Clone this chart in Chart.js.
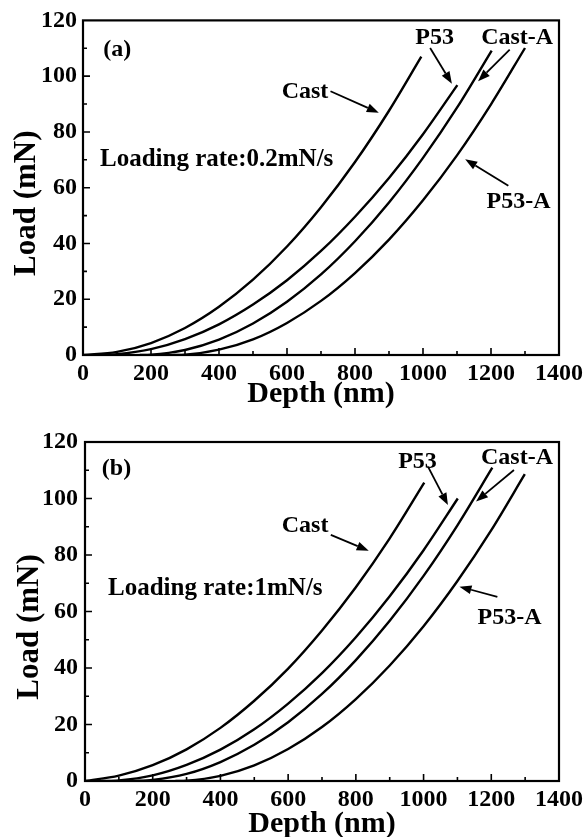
<!DOCTYPE html>
<html>
<head>
<meta charset="utf-8">
<script src="https://cdn.jsdelivr.net/npm/chart.js"></script>
<style>
  html, body { margin: 0; padding: 0; background: #fff; overflow: hidden; }
  canvas { position: absolute; left: 0; }
  #chartA { top: 0; }
  #chartB { top: 420px; }
</style>
</head>
<body>
<canvas id="chartA" width="587" height="420"></canvas>
<canvas id="chartB" width="587" height="430"></canvas>
<script>
// ---- data ----
// axis ticks
const depthTicks = [0, 200, 400, 600, 800, 1000, 1200, 1400];
const loadTicks = [0, 20, 40, 60, 80, 100, 120];

// (a) loading rate 0.2 mN/s
const aCastDepth = [0, 100, 200, 300, 400, 500, 600, 700, 800, 900, 995];
const aCastLoad = [0, 1.1, 4.3, 9.7, 17.3, 27.0, 38.9, 53.0, 69.2, 87.6, 107.0];
const aP53Depth = [43, 100, 200, 300, 400, 500, 600, 700, 800, 900, 1000, 1101];
const aP53Load = [0, 0.3, 2.1, 5.7, 11.0, 18.1, 26.8, 37.3, 49.6, 63.5, 79.2, 96.8];
const aCastADepth = [167, 200, 300, 400, 500, 600, 700, 800, 900, 1000, 1100, 1202];
const aCastALoad = [0, 0.1, 1.8, 5.5, 11.3, 19.1, 28.9, 40.8, 54.7, 70.7, 88.7, 109.2];
const aP53ADepth = [266, 300, 400, 500, 600, 700, 800, 900, 1000, 1100, 1200, 1300];
const aP53ALoad = [0, 0.1, 1.9, 5.6, 11.5, 19.4, 29.4, 41.4, 55.5, 71.6, 89.9, 110.1];

// (b) loading rate 1 mN/s
const bCastDepth = [0, 100, 200, 300, 400, 500, 600, 700, 800, 900, 1002];
const bCastLoad = [0, 1.9, 5.6, 11.2, 18.8, 28.4, 39.8, 53.3, 68.6, 85.9, 105.6];
const bP53Depth = [50, 100, 200, 300, 400, 500, 600, 700, 800, 900, 1000, 1101];
const bP53Load = [0, 0.2, 2.0, 5.7, 11.1, 18.3, 27.4, 38.2, 50.9, 65.4, 81.7, 100.0];
const bCastADepth = [139, 200, 300, 400, 500, 600, 700, 800, 900, 1000, 1100, 1203];
const bCastALoad = [0, 0.4, 2.5, 6.7, 12.8, 20.8, 30.8, 42.8, 56.7, 72.6, 90.5, 110.9];
const bP53ADepth = [267, 300, 400, 500, 600, 700, 800, 900, 1000, 1100, 1200, 1299];
const bP53ALoad = [0, 0.1, 1.8, 5.5, 11.3, 19.1, 29.0, 40.9, 54.8, 70.8, 88.8, 108.6];

function pts(xs, ys) {
  return xs.map((x, i) => ({ x: x, y: ys[i] }));
}

const serif = '"Liberation Serif", "Times New Roman", serif';

// labels + arrows, placed in data units
const panelA = {
  canvas: 'chartA', height: 420, top: 19, right: 26, yAxisW: 83, xAxisH: 65,
  yTickPad: 6, yTitlePad: 8, xTitlePad: 8,
  series: [pts(aCastDepth, aCastLoad), pts(aP53Depth, aP53Load), pts(aCastADepth, aCastALoad), pts(aP53ADepth, aP53ALoad)],
  texts: [
    { t: '(a)', x: 101, y: 109.5, align: 'center', size: 24 },
    { t: 'Loading rate:0.2mN/s', x: 50, y: 70, align: 'left', size: 25 },
    { t: 'Cast', x: 653, y: 94.3, align: 'center', size: 24 },
    { t: 'P53', x: 1034, y: 113.9, align: 'center', size: 24 },
    { t: 'Cast-A', x: 1277, y: 113.9, align: 'center', size: 24 },
    { t: 'P53-A', x: 1281, y: 55, align: 'center', size: 24 }
  ],
  arrows: [
    [728, 94.6, 870, 86.9],
    [1021, 110.1, 1085, 97.3],
    [1255, 109.5, 1162, 98.2],
    [1251, 60.7, 1124, 70.2]
  ]
};

const panelB = {
  canvas: 'chartB', height: 430, top: 22, right: 23, yAxisW: 85, xAxisH: 69,
  yTickPad: 7, yTitlePad: 11, xTitlePad: 8,
  series: [pts(bCastDepth, bCastLoad), pts(bP53Depth, bP53Load), pts(bCastADepth, bCastALoad), pts(bP53ADepth, bP53ALoad)],
  texts: [
    { t: '(b)', x: 93, y: 110.4, align: 'center', size: 24 },
    { t: 'Loading rate:1mN/s', x: 68, y: 68.3, align: 'left', size: 25 },
    { t: 'Cast', x: 650, y: 90.3, align: 'center', size: 24 },
    { t: 'P53', x: 982, y: 113, align: 'center', size: 24 },
    { t: 'Cast-A', x: 1276, y: 114.5, align: 'center', size: 24 },
    { t: 'P53-A', x: 1254, y: 57.7, align: 'center', size: 24 }
  ],
  arrows: [
    [726, 87.1, 838, 81.5],
    [1013, 111.3, 1072, 97.7],
    [1267, 110.1, 1155, 98.9],
    [1218, 65.2, 1106, 68.8]
  ]
};

// frame, inward ticks, annotations
const framePlugin = {
  id: 'frame',
  afterDraw(chart, args, opts) {
    const ctx = chart.ctx;
    const a = chart.chartArea;
    const xs = chart.scales.x, ys = chart.scales.y;
    ctx.save();
    ctx.strokeStyle = '#000';
    ctx.lineWidth = 2.2;
    ctx.strokeRect(a.left, a.top, a.right - a.left, a.bottom - a.top);

    ctx.lineWidth = 1.6;
    ctx.beginPath();
    for (let v = 100; v < 1400; v += 100) {
      const px = xs.getPixelForValue(v);
      const len = depthTicks.includes(v) ? 7 : 4;
      ctx.moveTo(px, a.bottom);
      ctx.lineTo(px, a.bottom - len);
    }
    for (let v = 10; v < 120; v += 10) {
      const py = ys.getPixelForValue(v);
      const len = loadTicks.includes(v) ? 7 : 4;
      ctx.moveTo(a.left, py);
      ctx.lineTo(a.left + len, py);
    }
    ctx.stroke();

    ctx.fillStyle = '#000';
    ctx.textBaseline = 'middle';
    opts.texts.forEach(l => {
      ctx.font = 'bold ' + l.size + 'px ' + serif;
      ctx.textAlign = l.align;
      ctx.fillText(l.t, xs.getPixelForValue(l.x), ys.getPixelForValue(l.y));
    });

    ctx.lineWidth = 1.8;
    opts.arrows.forEach(ar => {
      const x0 = xs.getPixelForValue(ar[0]), y0 = ys.getPixelForValue(ar[1]);
      const x1 = xs.getPixelForValue(ar[2]), y1 = ys.getPixelForValue(ar[3]);
      const ang = Math.atan2(y1 - y0, x1 - x0);
      const hl = 12, hw = 4.5;
      const bx = x1 - hl * Math.cos(ang), by = y1 - hl * Math.sin(ang);
      ctx.beginPath();
      ctx.moveTo(x0, y0);
      ctx.lineTo(bx, by);
      ctx.stroke();
      ctx.beginPath();
      ctx.moveTo(x1, y1);
      ctx.lineTo(bx - hw * Math.sin(ang), by + hw * Math.cos(ang));
      ctx.lineTo(bx + hw * Math.sin(ang), by - hw * Math.cos(ang));
      ctx.closePath();
      ctx.fill();
    });
    ctx.restore();
  }
};

function makeChart(p) {
  const tickFont = { family: serif, size: 24, weight: 'bold' };
  return new Chart(document.getElementById(p.canvas), {
    type: 'scatter',
    data: {
      datasets: p.series.map(s => ({
        data: s,
        showLine: true,
        borderColor: '#000',
        borderWidth: 2.4,
        pointRadius: 0,
        cubicInterpolationMode: 'monotone'
      }))
    },
    options: {
      responsive: false,
      animation: false,
      devicePixelRatio: 1,
      layout: { padding: { left: 0, top: p.top, right: p.right, bottom: 0 } },
      plugins: {
        legend: { display: false },
        tooltip: { enabled: false },
        frame: { texts: p.texts, arrows: p.arrows }
      },
      scales: {
        x: {
          type: 'linear', min: 0, max: 1400,
          afterBuildTicks: s => { s.ticks = depthTicks.map(v => ({ value: v })); },
          ticks: { color: '#000', font: tickFont, padding: 4, maxRotation: 0, autoSkip: false,
                   callback: v => String(v) },
          grid: { display: false, drawTicks: false },
          border: { display: false },
          title: { display: true, text: 'Depth (nm)', color: '#000',
                   font: { family: serif, size: 30, weight: 'bold' }, padding: { top: 0, bottom: p.xTitlePad } },
          afterFit: s => { s.height = p.xAxisH; }
        },
        y: {
          type: 'linear', min: 0, max: 120,
          afterBuildTicks: s => { s.ticks = loadTicks.map(v => ({ value: v })); },
          ticks: { color: '#000', font: tickFont, padding: p.yTickPad, callback: v => String(v) },
          grid: { display: false, drawTicks: false },
          border: { display: false },
          title: { display: true, text: 'Load (mN)\u2002\u2002', color: '#000',
                   font: { family: serif, size: 31, weight: 'bold' }, padding: { top: p.yTitlePad, bottom: 0 } },
          afterFit: s => { s.width = p.yAxisW; }
        }
      }
    },
    plugins: [framePlugin]
  });
}

makeChart(panelA);
makeChart(panelB);
</script>
</body>
</html>
